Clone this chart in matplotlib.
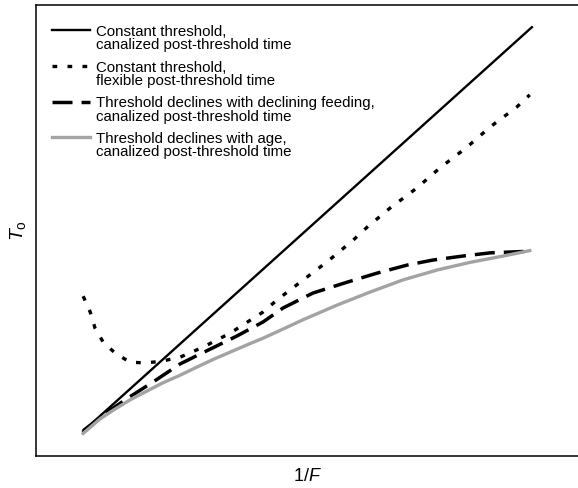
import matplotlib
matplotlib.use("Agg")
import matplotlib.pyplot as plt

plt.rcParams.update({"font.family": "Liberation Sans",
                     "mathtext.fontset": "custom",
                     "mathtext.rm": "Liberation Sans",
                     "mathtext.it": "Liberation Sans:italic",
                     "lines.scale_dashes": False})

# values, axes span 0..100 on both scales
x_solid = [8.7, 91.5]
y_solid = [5.5, 95.0]

x_flex = [8.7, 10.0, 10.9, 12.4, 14.6, 17.3, 20.1, 23.2, 26.6, 30.8, 35.8,
          41.9, 44.5, 49.3, 53.9, 58.5, 61.1, 65.3, 70.3, 74.5, 79.5, 83.8,
          88.7, 91.1]
y_flex = [35.4, 31.9, 28.3, 25.2, 22.8, 20.8, 20.6, 21.0, 21.9, 24.1, 27.2,
          31.9, 34.6, 39.0, 43.2, 47.8, 50.7, 54.9, 59.4, 63.8, 68.4, 72.9,
          77.3, 80.0]

x_feed = [8.7, 13.7, 17.3, 21.6, 26.6, 30.3, 32.7, 37.1, 41.9, 45.6, 51.1,
          57.4, 62.9, 68.5, 73.2, 78.8, 83.8, 89.9, 91.1]
y_feed = [5.6, 10.2, 13.1, 16.4, 20.4, 22.6, 24.0, 26.6, 29.7, 32.8, 36.1,
          38.5, 40.5, 42.3, 43.4, 44.3, 45.0, 45.3, 45.4]

x_age = [8.7, 11.8, 14.2, 17.3, 20.5, 23.4, 26.6, 29.7, 32.7, 35.8, 38.9,
         41.9, 45.0, 49.3, 55.5, 61.6, 67.7, 74.0, 80.1, 86.2, 91.1]
y_age = [5.0, 8.2, 10.1, 12.4, 14.4, 16.2, 17.9, 19.7, 21.4, 23.0, 24.6,
         26.1, 27.8, 30.2, 33.4, 36.3, 39.0, 41.2, 42.9, 44.3, 45.5]

labels = ["Constant threshold,\ncanalized post-threshold time",
          "Constant threshold,\nflexible post-threshold time",
          "Threshold declines with declining feeding,\ncanalized post-threshold time",
          "Threshold declines with age,\ncanalized post-threshold time"]

fig = plt.figure(figsize=(5.78, 4.88), dpi=100)
ax = fig.add_axes([0.0623, 0.0656, 0.9377, 0.925])

ax.plot(x_solid, y_solid, color="black", lw=1.7, label=labels[0])
ax.plot(x_flex, y_flex, color="black", lw=2.4, ls=(0, (3.4, 7.4)),
        label=labels[1])
ax.plot(x_feed, y_feed, color="black", lw=2.5, ls=(0, (14.4, 6.5)),
        label=labels[2])
ax.plot(x_age, y_age, color="#a3a3a3", lw=2.4, solid_joinstyle="round",
        label=labels[3])

ax.set_xlim(0, 100); ax.set_ylim(0, 100)
ax.set_xticks([]); ax.set_yticks([])
ax.spines["right"].set_visible(False)
for s in ("left", "top", "bottom"):
    ax.spines[s].set_linewidth(1.1)

ax.set_xlabel("1/$\\mathit{F}$", fontsize=13, labelpad=9)
ax.set_ylabel("$\\mathit{T}_{\\mathrm{o}}$", fontsize=14, labelpad=6)

leg = ax.legend(loc="upper left", frameon=False, fontsize=10.8,
                handlelength=2.5, handletextpad=0.4, labelspacing=0.55,
                borderaxespad=0.5, bbox_to_anchor=(0.005, 0.985))
for t in leg.get_texts():
    t.set_linespacing(0.95)
# put each handle on the first line of its two-line label
for col in leg._legend_handle_box.get_children():
    for item in col.get_children():
        item.align = "top"

fig.savefig("out.png", dpi=100)
